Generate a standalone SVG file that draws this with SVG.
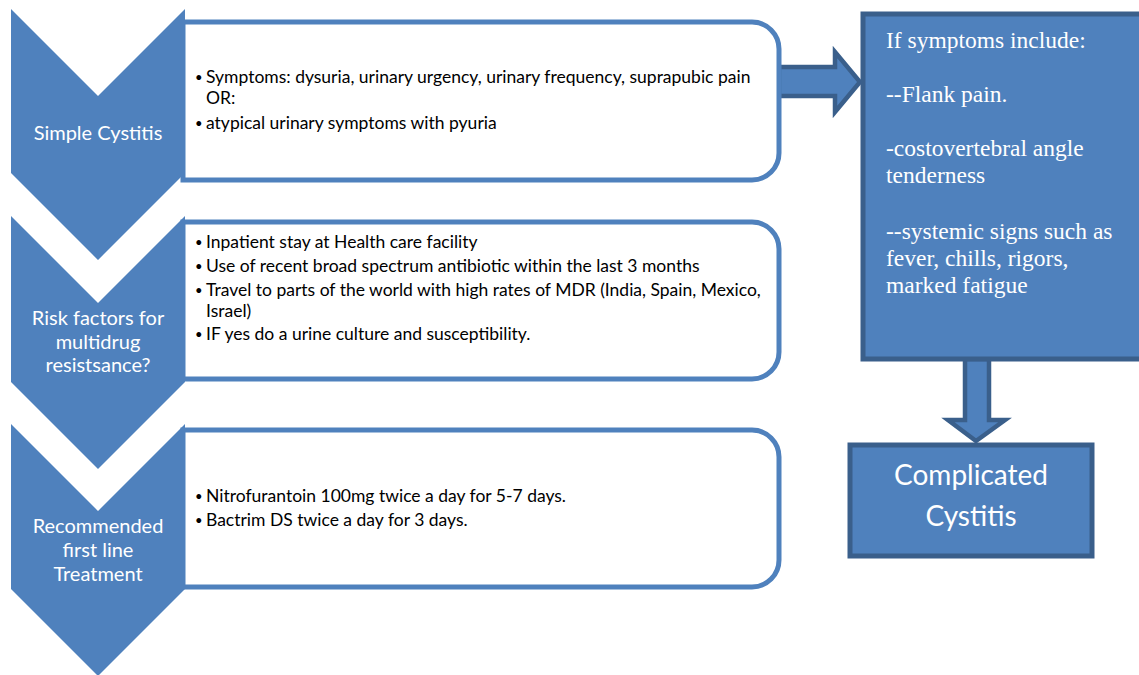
<svg xmlns="http://www.w3.org/2000/svg" width="1139" height="675" viewBox="0 0 1139 675">
<style>
.box{fill:#fff;stroke:#4F81BD;stroke-width:5}
.chev{fill:#4F81BD}
.dark{fill:#4F81BD;stroke:#3A5F8B;stroke-width:4.5;stroke-linejoin:miter}
.bt{font-family:Lato,"Liberation Sans",sans-serif;font-size:17.5px;fill:#000}
.bu{font-size:13px}
.ct{font-family:Lato,"Liberation Sans",sans-serif;font-size:20px;fill:#fff;text-anchor:middle}
.st{font-family:"Liberation Serif","Times New Roman",serif;font-size:23.5px;fill:#fff}
.cc{font-family:Lato,"Liberation Sans",sans-serif;font-size:28px;fill:#fff;text-anchor:middle}
</style>
<rect width="1139" height="675" fill="#fff"/>
<g id="connectors">
<path class="dark" d="M779,67 H835 V52 L860,82 L835,112 V96 H779 Z"/>
<path class="dark" d="M965,359 V420 H948 L976,441 L1005,420 H989 V359 Z"/>
</g>
<g id="box1">
<path class="box" d="M183,22 H752 A27,27 0 0 1 779,49 V153 A27,27 0 0 1 752,180 H183 Z"/>
<text class="bt"><tspan class="bu" x="195" y="82">•</tspan><tspan x="206" y="83">Symptoms: dysuria, urinary urgency, urinary frequency, suprapubic pain</tspan><tspan x="206" y="104">OR:</tspan><tspan class="bu" x="195" y="128">•</tspan><tspan x="206" y="129">atypical urinary symptoms with pyuria</tspan></text>
</g>
<g id="box2">
<path class="box" d="M183,222 H752 A27,27 0 0 1 779,249 V352 A27,27 0 0 1 752,379 H183 Z"/>
<text class="bt"><tspan class="bu" x="195" y="247">•</tspan><tspan x="206" y="248">Inpatient stay at Health care facility</tspan><tspan class="bu" x="195" y="271">•</tspan><tspan x="206" y="272">Use of recent broad spectrum antibiotic within the last 3 months</tspan><tspan class="bu" x="195" y="295">•</tspan><tspan x="206" y="296">Travel to parts of the world with high rates of MDR (India, Spain, Mexico,</tspan><tspan x="206" y="317">Israel)</tspan><tspan class="bu" x="195" y="339">•</tspan><tspan x="206" y="340">IF yes do a urine culture and susceptibility.</tspan></text>
</g>
<g id="box3">
<path class="box" d="M183,430 H752 A27,27 0 0 1 779,457 V560 A27,27 0 0 1 752,587 H183 Z"/>
<text class="bt"><tspan class="bu" x="195" y="501">•</tspan><tspan x="206" y="502">Nitrofurantoin 100mg twice a day for 5-7 days.</tspan><tspan class="bu" x="195" y="525">•</tspan><tspan x="206" y="526">Bactrim DS twice a day for 3 days.</tspan></text>
</g>
<g id="chevron1">
<path class="chev" d="M11,9 L98,96 L185,9 V173 L98,260 L11,173 Z"/>
<text class="ct" x="98" y="140">Simple Cystitis</text>
</g>
<g id="chevron2">
<path class="chev" d="M11,216 L98,303 L185,216 V382 L98,469 L11,382 Z"/>
<text class="ct"><tspan x="98" y="325">Risk factors for</tspan><tspan x="98" y="349">multidrug</tspan><tspan x="98" y="372">resistsance?</tspan></text>
</g>
<g id="chevron3">
<path class="chev" d="M11,424 L98,511 L185,424 V589 L98,676 L11,589 Z"/>
<text class="ct"><tspan x="98" y="533">Recommended</tspan><tspan x="98" y="557">first line</tspan><tspan x="98" y="581">Treatment</tspan></text>
</g>
<g id="symptoms">
<rect class="dark" x="863" y="14" width="290" height="345" style="stroke-width:5"/>
<text class="st"><tspan x="886" y="48">If symptoms include:</tspan><tspan x="886" y="102">--Flank pain.</tspan><tspan x="886" y="156">-costovertebral angle</tspan><tspan x="886" y="183">tenderness</tspan><tspan x="886" y="239">--systemic signs such as</tspan><tspan x="886" y="266">fever, chills, rigors,</tspan><tspan x="886" y="293">marked fatigue</tspan></text>
</g>
<g id="complicated">
<rect class="dark" x="850" y="445" width="242" height="111" style="stroke-width:5"/>
<text class="cc"><tspan x="971" y="485">Complicated</tspan><tspan x="971" y="526">Cystitis</tspan></text>
</g>
</svg>
